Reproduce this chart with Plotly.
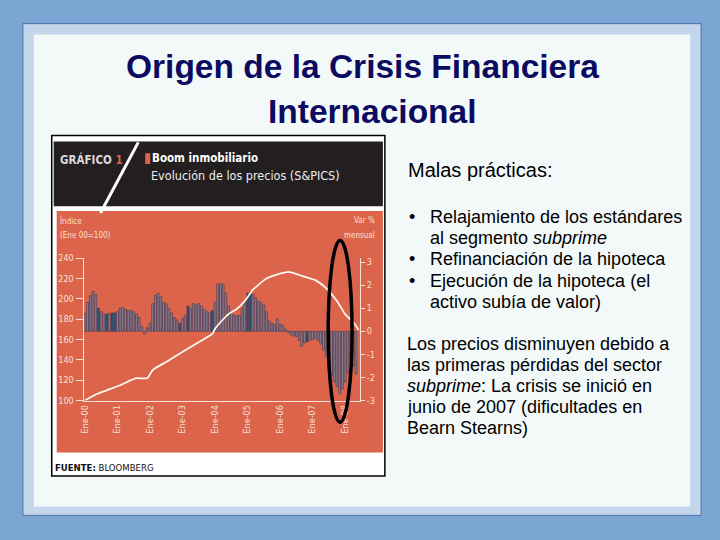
import plotly.graph_objects as go

# ---------------- data ----------------
# monthly % change (right axis), month index 0 = Ene-00
monthly_change = [
    0.8, 1.25, 1.55, 1.74, 1.6, 1.0, 0.85, 0.75, 0.75, 0.78,
    0.8, 0.8, 0.85, 1.0, 1.03, 0.95, 0.9, 0.9, 0.85, 0.75,
    0.6, 0.2, -0.1, 0.15, 0.35, 1.2, 1.55, 1.65, 1.5, 1.25,
    1.2, 1.0, 0.8, 0.6, 0.5, 0.35, 0.55, 0.7, 1.1, 1.0,
    1.2, 1.15, 1.2, 1.1, 0.95, 0.85, 0.8, 0.9, 1.25, 2.05,
    2.07, 2.05, 1.65, 1.1, 0.85, 0.68, 0.68, 0.7, 1.0, 1.25,
    1.65, 1.7, 1.6, 1.45, 1.3, 1.25, 1.15, 0.85, 0.45, 0.35,
    0.3, 0.55, 0.3, 0.25, 0.1, -0.05, -0.15, -0.2, -0.22, -0.4,
    -0.65, -0.5, -0.45, -0.4, -0.35, -0.3, -0.4, -0.55, -0.8, -1.1,
    -1.6, -1.9, -2.2, -2.4, -2.7, -2.5, -2.2, -1.8, -1.2, -1.5,
    -1.85,
]
months = list(range(len(monthly_change)))
blue_months = [5, 8, 10, 11, 35, 38, 47, 60, 61, 82]

# S&P/Case-Shiller index (left axis), Ene 00 = 100
line_months = [0, 4, 8, 13, 17, 19, 23, 25, 30, 37, 43, 47, 48, 50, 53, 56, 59,
               62, 67, 71, 75, 79, 85, 89, 93, 96, 99, 101]
line_index = [100, 106, 110, 115, 120, 122, 122, 130, 138, 149.5, 159, 165.5, 170.5,
              177, 185, 190, 198, 209, 220, 224, 226.5, 223.5, 218.5, 210.5, 198,
              185, 177, 169.5]

year_ticks = [0, 12, 24, 36, 48, 60, 72, 84, 96]
year_labels = ["Ene-00", "Ene-01", "Ene-02", "Ene-03", "Ene-04",
               "Ene-05", "Ene-06", "Ene-07", "Ene-08"]
left_ticks = [100, 120, 140, 160, 180, 200, 220, 240]
right_ticks = [-3, -2, -1, 0, 1, 2, 3]

title_lines = ["Origen de la Crisis Financiera", "Internacional"]
heading = "Malas prácticas:"
bullets = [
    ("•", "Relajamiento de los estándares"),
    ("", "al segmento <i>subprime</i>"),
    ("•", "Refinanciación de la hipoteca"),
    ("•", "Ejecución de la hipoteca (el"),
    ("", "activo subía de valor)"),
]
paragraph = [
    "Los precios disminuyen debido a",
    "las primeras pérdidas del sector",
    "<i>subprime</i>: La crisis se inició en",
    "junio de 2007 (dificultades en",
    "Bearn Stearns)",
]

# ---------------- helpers ----------------
W, H = 720, 540
def px(x):
    return x / W
def py(y):
    return 1 - y / H

NARROW = "Liberation Sans Narrow, Arial Narrow, DejaVu Sans Condensed, sans-serif"
SANS = "Liberation Sans, Arial, sans-serif"
AXC = "#F8E0D6"

bar_colors = ["#26567C" if m in blue_months else "#8C8396" for m in months]

fig = go.Figure()
fig.add_trace(go.Bar(
    x=months, y=monthly_change, yaxis="y", xaxis="x",
    marker=dict(color=bar_colors, line=dict(color="#3A3450", width=0.6)),
    width=0.68, showlegend=False,
))
fig.add_trace(go.Scatter(
    x=line_months, y=line_index, yaxis="y2", xaxis="x",
    mode="lines", line=dict(color="#FFF6EE", width=1.8, shape="spline", smoothing=0.6),
    showlegend=False,
))

shapes = [
    # slide frame
    dict(type="rect", xref="paper", yref="paper", x0=px(19), x1=px(701), y0=py(520), y1=py(19),
         fillcolor="#C3D6EC", line=dict(color="#4F72A8", width=1), layer="below"),
    dict(type="rect", xref="paper", yref="paper", x0=px(30), x1=px(690), y0=py(511), y1=py(30),
         fillcolor="#F3F8F9", line=dict(width=0), layer="below"),
    # chart picture
    dict(type="rect", xref="paper", yref="paper", x0=px(48), x1=px(383), y0=py(480), y1=py(133),
         fillcolor="#FFFFFF", line=dict(color="#000000", width=1.5), layer="below"),
    dict(type="rect", xref="paper", yref="paper", x0=px(50), x1=px(381), y0=py(205), y1=py(139),
         fillcolor="#231F20", line=dict(width=0), layer="below"),
    dict(type="rect", xref="paper", yref="paper", x0=px(53), x1=px(381), y0=py(456), y1=py(210),
         fillcolor="#DB644A", line=dict(width=0), layer="below"),
    dict(type="line", xref="paper", yref="paper", x0=px(135), x1=px(97), y0=py(140), y1=py(212),
         line=dict(color="#FFFFFF", width=3), layer="below"),
    dict(type="rect", xref="paper", yref="paper", x0=px(142), x1=px(147), y0=py(162), y1=py(151),
         fillcolor="#E2604A", line=dict(width=0), layer="below"),
    # hand-drawn oval
    dict(type="circle", xref="paper", yref="paper", x0=px(326), x1=px(350), y0=py(425), y1=py(240),
         line=dict(color="#000000", width=3.5), layer="above"),
]

ann = []
PAD = 3  # annotation box padding
def text(x, y, s, size, color="#000000", family=SANS, xanchor="left"):
    if xanchor == "left":
        x -= PAD
    elif xanchor == "right":
        x += PAD
    ann.append(dict(x=px(x), y=py(y), xref="paper", yref="paper", text=s, showarrow=False,
                    xanchor=xanchor, yanchor="middle", font=dict(size=size, color=color, family=family)))

# title
text(360, 63, "<b>" + title_lines[0] + "</b>", 33.5, "#0B0B60", xanchor="center")
text(371, 109, "<b>" + title_lines[1] + "</b>", 33.5, "#0B0B60", xanchor="center")

# right-hand text
text(407, 168, heading, 20)
y = 216
for b, s in bullets:
    if b:
        text(408, y, b, 18)
    text(429, y, s, 18)
    y += 21.6
y = 345
for s in paragraph:
    text(406, y, s, 18)
    y += 21.5

# chart header / footer
text(57, 157, "<b>GRÁFICO <span style='color:#E2604A'>1</span></b>", 11.5, "#D9D9D9", NARROW)
text(150, 156, "<b>Boom inmobiliario</b>", 11.5, "#FFFFFF", NARROW)
text(149, 174, "Evolución de los precios (S&PICS)", 12.5, "#EDEDED", NARROW)
text(52, 471, "<b>FUENTE:</b> BLOOMBERG", 9.5, "#111111", NARROW)

# axis titles
text(57, 220, "Índice", 8, AXC, NARROW)
text(57, 235, "(Ene 00=100)", 8, AXC, NARROW)
text(372, 220, "Var %", 8, AXC, NARROW, xanchor="right")
text(372, 235, "mensual", 8, AXC, NARROW, xanchor="right")

fig.update_layout(
    width=W, height=H, margin=dict(l=0, r=0, t=0, b=0),
    paper_bgcolor="#7BA5D2", plot_bgcolor="rgba(0,0,0,0)",
    shapes=shapes, annotations=ann, bargap=0.3, showlegend=False,
    xaxis=dict(domain=[px(80), px(358)], range=[-0.5, 101.5], tickvals=year_ticks,
               ticktext=year_labels, tickangle=-90, ticks="", showgrid=False, zeroline=False,
               showline=True, linecolor=AXC, linewidth=1,
               tickfont=dict(family=NARROW, size=9, color=AXC)),
    yaxis=dict(domain=[py(403), py(258)], range=[-3, 3.17], side="right", tickvals=right_ticks,
               ticktext=[str(v) for v in right_ticks], ticks="outside", ticklen=4, tickcolor=AXC,
               showgrid=False, zeroline=False, showline=True, linecolor=AXC, linewidth=1,
               tickfont=dict(family=NARROW, size=9, color=AXC)),
    yaxis2=dict(domain=[py(403), py(258)], range=[100, 240], side="left", overlaying="y",
                anchor="x", tickvals=left_ticks, ticks="outside", ticklen=7, tickcolor=AXC,
                showgrid=False, zeroline=False, showline=True, linecolor=AXC, linewidth=1,
                tickfont=dict(family=NARROW, size=9, color=AXC)),
)

fig.write_html("out.html", config={"displayModeBar": False},
               post_script="document.body.style.margin='0';document.body.style.overflow='hidden';")
